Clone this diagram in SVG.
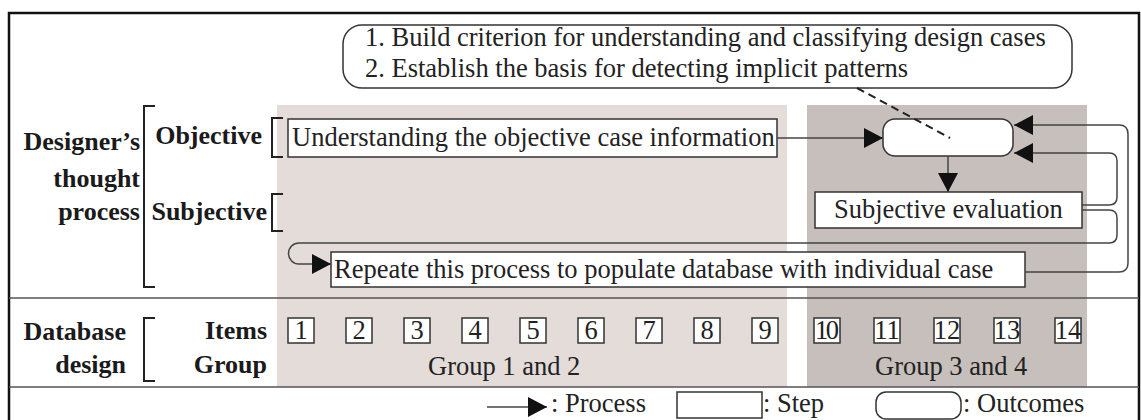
<svg xmlns="http://www.w3.org/2000/svg" width="1141" height="420" viewBox="0 0 1141 420">
<defs>
<marker id="ah" markerUnits="userSpaceOnUse" markerWidth="20" markerHeight="20" refX="19" refY="10" orient="auto">
<path d="M0,0 L19,10 L0,20 z" fill="#111"/>
</marker>
<style>
text{font-family:"Liberation Serif","Times New Roman",serif;font-size:26.5px;fill:#222}
.b{font-weight:bold;font-size:26px;fill:#1a1a1a}
.r{text-anchor:end}
.m{text-anchor:middle}
.box{fill:#fff;stroke:#333;stroke-width:1.5}
.conn{fill:none;stroke:#444;stroke-width:1.5}
.brk{fill:none;stroke:#222;stroke-width:2}
.sep{stroke:#555;stroke-width:1.5}
</style>
</defs>
<rect width="1141" height="420" fill="#fff"/>
<rect x="277" y="105" width="510" height="282" fill="#e3dcd9"/>
<rect x="807" y="105" width="280" height="282" fill="#c6bfbb"/>
<path d="M9,422 V13 H1139 V422" fill="none" stroke="#111" stroke-width="2.5"/>
<line class="sep" x1="9" y1="298" x2="1139" y2="298"/>
<line class="sep" x1="9" y1="387" x2="1139" y2="387"/>

<g id="labels">
<text class="b r" x="140" y="150">Designer’s</text>
<text class="b r" x="140" y="187">thought</text>
<text class="b r" x="140" y="220">process</text>
<path class="brk" d="M155,106 H144 V287 H155"/>
<text class="b r" x="262" y="144">Objective</text>
<path class="brk" d="M283,118 H272 V157 H283"/>
<text class="b r" x="267" y="220">Subjective</text>
<path class="brk" d="M283,194 H272 V231 H283"/>
<text class="b r" x="126" y="340">Database</text>
<text class="b r" x="126" y="373">design</text>
<path class="brk" d="M155,318 H144 V381 H155"/>
<text class="b r" x="267" y="339">Items</text>
<text class="b r" x="267" y="373">Group</text>
</g>

<g id="callout">
<rect class="box" x="343" y="25" width="729" height="63" rx="19" ry="19"/>
<text x="365" y="46">1. Build criterion for understanding and classifying design cases</text>
<text x="365" y="77">2. Establish the basis for detecting implicit patterns</text>
</g>

<g id="understanding">
<rect class="box" x="288" y="119" width="489" height="38"/>
<text x="292" y="146">Understanding the objective case information</text>
</g>

<g id="outcome">
<rect class="box" x="883" y="119" width="130" height="37" rx="12" ry="12"/>
</g>

<g id="evaluation">
<rect class="box" x="815" y="192" width="267" height="36"/>
<text x="834" y="218">Subjective evaluation</text>
</g>

<g id="repeat">
<rect class="box" x="331" y="252" width="694" height="35"/>
<text x="334" y="278">Repeate this process to populate database with individual case</text>
</g>

<g id="connectors">
<line class="conn" x1="777" y1="138" x2="883" y2="138" marker-end="url(#ah)"/>
<line x1="857" y1="88" x2="950" y2="138" stroke="#222" stroke-width="2" stroke-dasharray="8,5"/>
<line class="conn" x1="948" y1="156" x2="948" y2="192" marker-end="url(#ah)"/>
<path class="conn" d="M1025,272 H1119 Q1128,272 1128,263 V134 Q1128,125 1119,125 H1014" marker-end="url(#ah)"/>
<path class="conn" d="M1082,205 H1109 Q1117,205 1117,197 V161 Q1117,153 1109,153 H1014" marker-end="url(#ah)"/>
<path class="conn" d="M1082,210 H1109 Q1117,210 1117,218 V235 Q1117,243 1109,243 H299 A10.5,10.5 0 0 0 299,264 H331" marker-end="url(#ah)"/>
</g>

<g id="items">
<g class="box">
<rect x="288" y="318" width="26" height="25"/>
<rect x="346" y="318" width="26" height="25"/>
<rect x="404" y="318" width="26" height="25"/>
<rect x="462" y="318" width="26" height="25"/>
<rect x="520" y="318" width="26" height="25"/>
<rect x="578" y="318" width="26" height="25"/>
<rect x="636" y="318" width="26" height="25"/>
<rect x="694" y="318" width="26" height="25"/>
<rect x="752" y="318" width="26" height="25"/>
<rect x="814" y="318" width="26" height="25"/>
<rect x="874" y="318" width="26" height="25"/>
<rect x="934" y="318" width="26" height="25"/>
<rect x="994" y="318" width="26" height="25"/>
<rect x="1055" y="318" width="26" height="25"/>
</g>
<text class="m" x="301" y="339">1</text>
<text class="m" x="359" y="339">2</text>
<text class="m" x="417" y="339">3</text>
<text class="m" x="475" y="339">4</text>
<text class="m" x="533" y="339">5</text>
<text class="m" x="591" y="339">6</text>
<text class="m" x="649" y="339">7</text>
<text class="m" x="707" y="339">8</text>
<text class="m" x="765" y="339">9</text>
<text class="m" x="827" y="339" textLength="24">10</text>
<text class="m" x="887" y="339">11</text>
<text class="m" x="947" y="339">12</text>
<text class="m" x="1007" y="339">13</text>
<text class="m" x="1068" y="339">14</text>
<text x="428" y="375">Group 1 and 2</text>
<text x="875" y="375">Group 3 and 4</text>
</g>

<g id="legend">
<line class="conn" x1="487" y1="407" x2="547" y2="407" marker-end="url(#ah)"/>
<text x="551" y="412">: Process</text>
<rect class="box" x="677" y="392" width="85" height="26"/>
<text x="763" y="412">: Step</text>
<rect class="box" x="876" y="392" width="85" height="27" rx="10" ry="10"/>
<text x="963" y="412">: Outcomes</text>
</g>
</svg>
